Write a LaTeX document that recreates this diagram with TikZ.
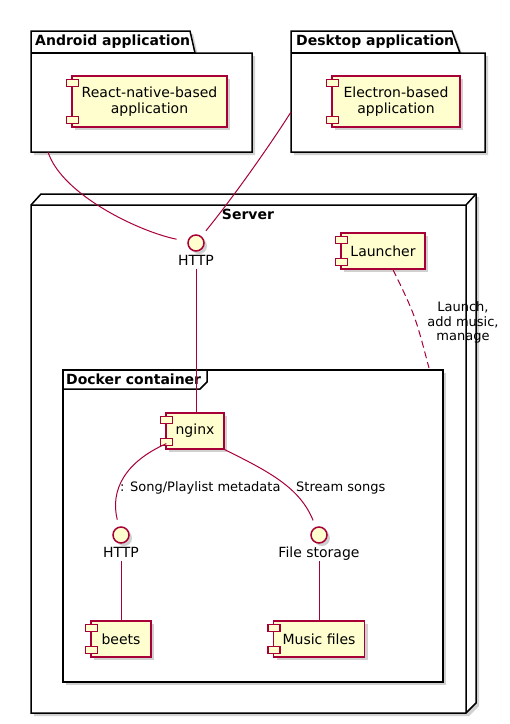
\documentclass[tikz,border=0pt]{standalone}
\usepackage{fontspec}
\setmainfont{DejaVu Sans}
\usetikzlibrary{shadows}

\definecolor{umlred}{HTML}{A80036}
\definecolor{umlfill}{HTML}{FEFECE}

\begin{document}
\begin{tikzpicture}[
        x=1pt, y=-1pt,
        every node/.style={font=\fontsize{14}{15.5}\selectfont, inner sep=0pt},
        umlshadow/.style={drop shadow={shadow xshift=3pt, shadow yshift=-3pt, opacity=0.3, fill=black!60}},
        comp/.style={draw=umlred, fill=umlfill, line width=1.2pt, align=center, umlshadow},
        lug/.style={draw=umlred, fill=umlfill, line width=1.2pt},
        iface/.style={circle, draw=umlred, fill=umlfill, line width=1.5pt, minimum size=16pt, umlshadow},
        ilabel/.style={text height=10pt, text depth=3pt, inner sep=1pt},
        frame/.style={draw, fill=white, line width=1.5pt, umlshadow},
        title/.style={font=\bfseries\fontsize{14}{15.5}\selectfont},
        link/.style={draw=umlred, line width=1pt},
        note/.style={font=\fontsize{13}{14.5}\selectfont, align=center}
    ]
    \useasboundingbox (0,0) rectangle (510,724);

    % Packages
    \path[frame] (31,31) -- (190,31) -- (195,53) -- (252,53) -- (252,152) -- (31,152) -- cycle;
    \draw[line width=1.5pt] (31,53) -- (195,53);
    \node[title, anchor=west] (androidlbl) at (35,42) {Android application};

    \path[frame] (291,31) -- (452,31) -- (460,53) -- (485,53) -- (485,152) -- (291,152) -- cycle;
    \draw[line width=1.5pt] (291,53) -- (460,53);
    \node[title, anchor=west] (desktoplbl) at (296,42) {Desktop application};

    % Server node
    \path[frame] (31,205) -- (41,194) -- (476,194) -- (476,703) -- (466,713) -- (31,713) -- cycle;
    \draw[line width=1.5pt] (31,205) -- (466,205) -- (476,194) (466,205) -- (466,713);
    \node[title] (serverlbl) at (248,214) {Server};

    % Docker frame
    \path[frame] (63,370) rectangle (443,682);
    \draw[line width=1.5pt] (63,389) -- (200,389) -- (207,382) -- (207,370);
    \node[title, anchor=west] (dockerlbl) at (66,379) {Docker container};

    % Components
    \node[comp, minimum width=155, minimum height=51] (rn) at (149.5,101.5) {React-native-based\\application};
    \node[comp, minimum width=128, minimum height=51] (el) at (396,101.5) {Electron-based\\application};
    \node[comp, minimum width=84, minimum height=36] (launcher) at (383,251) {Launcher};
    \node[comp, minimum width=58, minimum height=36] (nginx) at (195,431) {nginx};
    \node[comp, minimum width=60, minimum height=36] (beets) at (121,639) {beets};
    \node[comp, minimum width=91, minimum height=36] (music) at (319,639) {Music files};

    \foreach \c in {rn, el, launcher, nginx, beets, music} {
        \draw[lug] ([shift={(-5,4)}]\c.north west) rectangle +(12,7);
        \draw[lug] ([shift={(-5,-11)}]\c.south west) rectangle +(12,7);
    }

    % Interfaces
    \node[iface] (httpA) at (196,243) {};
    \node[ilabel] (httpAlbl) at (196,261.5) {HTTP};
    \node[iface] (httpB) at (121,535) {};
    \node[ilabel] (httpBlbl) at (121,553.5) {HTTP};
    \node[iface] (storage) at (319,535) {};
    \node[ilabel] (storagelbl) at (319,553.5) {File storage};

    % Connectors
    \coordinate (androidedge) at (48,152);
    \coordinate (desktopedge) at (291,112);
    \coordinate (dockertop) at (429,368);

    \draw[link, shorten >=11pt] (androidedge) .. controls (62,195) and (140,232) .. (httpA);
    \draw[link, shorten >=7pt] (desktopedge) .. controls (270,145) and (235,195) .. (httpA);
    \draw[link] (httpAlbl.south) -- (httpAlbl.south |- nginx.north);

    \draw[link, dash pattern=on 7pt off 4pt] ([xshift=10pt]launcher.south) .. controls (415,315) .. (dockertop);
    \node[note] (launchlbl) at (463,322.5) {Launch,\\add music,\\manage};

    \draw[link, shorten >=7pt] ([shift={(1,-6)}]nginx.south west) .. controls (125,462) and (110,490) .. (httpB);
    \node[note, anchor=west] (metalbl) at (120,488) {: Song/Playlist metadata};
    \draw[link, shorten >=7pt] (nginx.south east) .. controls (270,472) and (300,488) .. (storage);
    \node[note, anchor=west] (streamlbl) at (296,488) {Stream songs};

    \draw[link] (httpBlbl.south) -- (beets.north);
    \draw[link] (storagelbl.south) -- (music.north);

\end{tikzpicture}
\end{document}
